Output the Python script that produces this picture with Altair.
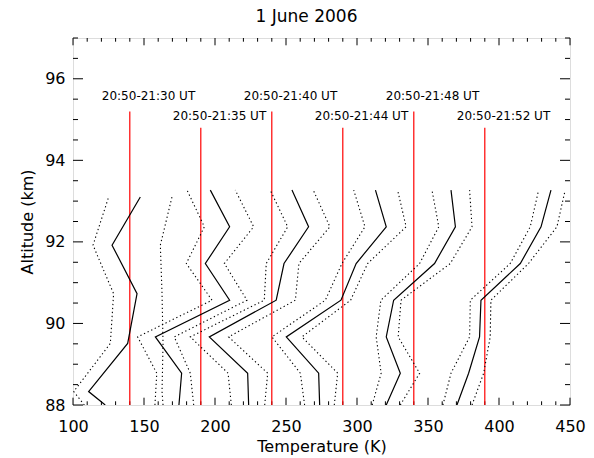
import altair as alt
import pandas as pd

# ---------------- data ----------------
labels = ["20:50-21:30 UT", "20:50-21:35 UT", "20:50-21:40 UT",
          "20:50-21:44 UT", "20:50-21:48 UT", "20:50-21:52 UT"]
marker_temp = [140, 190, 240, 290, 340, 390]
marker_top = [95.2, 94.8, 95.2, 94.8, 95.2, 94.8]
label_alt = [95.58, 95.08, 95.58, 95.08, 95.58, 95.08]

alt_first = [93.10, 91.92, 90.73, 89.51, 88.33, 88.0]
alt_other = [93.27, 92.37, 91.47, 90.57, 89.67, 88.78, 88.0]

temp_1 = [147.4, 127.5, 145.1, 138.5, 111.0, 122.7]
low_1 = [125.1, 114.1, 128.6, 126.3, 100.5, 108.0]
high_1 = [169.7, 161.5, 162.7, 163.4, 162.7, 163.4]

temp_2 = [196.7, 210.3, 193.2, 210.3, 158.0, 176.5, 174.6]
low_2 = [180.3, 192.5, 179.8, 197.9, 145.5, 159.0, 157.7]
high_2 = [214.3, 227.2, 206.6, 222.5, 171.3, 182.6, 185.0]

temp_3 = [254.2, 265.9, 248.6, 243.1, 196.0, 223.0, 223.7]
low_3 = [238.9, 251.2, 236.1, 234.7, 182.6, 209.2, 211.5]
high_3 = [269.2, 280.9, 259.1, 256.6, 209.6, 237.1, 235.0]

temp_4 = [313.0, 320.6, 299.4, 288.7, 250.2, 273.0, 273.7]
low_4 = [297.7, 305.6, 289.4, 277.7, 240.1, 260.1, 263.1]
high_4 = [328.6, 334.6, 307.5, 295.5, 261.2, 286.4, 284.0]

temp_5 = [366.2, 369.3, 354.6, 325.8, 320.6, 330.5, 320.6]
low_5 = [352.8, 357.6, 344.1, 316.8, 313.5, 317.0, 310.7]
high_5 = [379.3, 381.0, 365.7, 331.0, 329.0, 344.1, 330.5]

temp_6 = [436.6, 429.6, 415.0, 387.3, 386.3, 378.6, 370.4]
low_6 = [427.9, 422.0, 407.9, 379.8, 379.3, 366.2, 360.5]
high_6 = [446.6, 440.8, 420.8, 394.3, 393.8, 389.2, 381.0]

x_major = [100, 150, 200, 250, 300, 350, 400, 450]
x_minor = [v for v in range(100, 451, 10) if v % 50 != 0]
y_major = [88, 90, 92, 94, 96]
y_minor = [88 + 0.5 * i for i in range(19) if (0.5 * i) % 2 != 0]

# ---------------- tables ----------------
profiles = [
    (alt_first, temp_1, low_1, high_1),
    (alt_other, temp_2, low_2, high_2),
    (alt_other, temp_3, low_3, high_3),
    (alt_other, temp_4, low_4, high_4),
    (alt_other, temp_5, low_5, high_5),
    (alt_other, temp_6, low_6, high_6),
]
rows = []
for i, (alts, m, lo, hi) in enumerate(profiles):
    for kind, vals in (("mean", m), ("low", lo), ("high", hi)):
        for a, t in zip(alts, vals):
            rows.append({"series": f"{i}-{kind}", "kind": kind, "alt": a, "temp": t})
df = pd.DataFrame(rows)

markers = pd.DataFrame({"temp": marker_temp, "alt": [88.0] * 6, "top": marker_top,
                        "label_alt": label_alt, "label": labels})

W, H = 497, 367
FONT = "DejaVu Sans"

xs = alt.Scale(domain=[100, 450], nice=False, zero=False)
ys = alt.Scale(domain=[88, 97], nice=False, zero=False)
xaxis = alt.Axis(values=x_major, title="Temperature (K)", ticks=False, tickSize=0,
                 domain=False, grid=False, labelPadding=13, labelFontSize=16,
                 labelFlush=False, labelOverlap=False,
                 titleFontSize=16, titleFontWeight="normal", titlePadding=4,
                 labelFont=FONT, titleFont=FONT, labelColor="black", titleColor="black")
yaxis = alt.Axis(values=y_major, title="Altitude (km)", ticks=False, tickSize=0,
                 domain=False, grid=False, labelPadding=8, labelFontSize=16,
                 labelFlush=False, labelOverlap=False,
                 titleFontSize=16, titleFontWeight="normal", titlePadding=9,
                 labelFont=FONT, titleFont=FONT, labelColor="black", titleColor="black")
X = alt.X("temp:Q", scale=xs, axis=xaxis)
Y = alt.Y("alt:Q", scale=ys, axis=yaxis)

mean_lines = alt.Chart(df).transform_filter(alt.datum.kind == "mean").mark_line(
    color="black", strokeWidth=1.2, clip=True
).encode(x=X, y=Y, detail="series:N", order="alt:Q")

err_lines = alt.Chart(df).transform_filter(alt.datum.kind != "mean").mark_line(
    color="black", strokeWidth=1.1, strokeDash=[1.3, 2.7], clip=True
).encode(x=X, y=Y, detail="series:N", order="alt:Q")

red_rules = alt.Chart(markers).mark_rule(color="#ff0000", strokeWidth=1.2).encode(
    x=X, y=Y, y2="top:Q"
)

texts = alt.Chart(markers).mark_text(
    align="left", baseline="middle", dx=-28, fontSize=12, font=FONT, color="black"
).encode(x=X, y=alt.Y("label_alt:Q", scale=ys), text="label:N")

# inward ticks on all four sides
xmaj = pd.DataFrame({"temp": x_major})
xmin = pd.DataFrame({"temp": x_minor})
ymaj = pd.DataFrame({"alt": y_major})
ymin = pd.DataFrame({"alt": y_minor})

def xticks(d, length):
    b = alt.Chart(d).mark_rule(color="black", strokeWidth=1).encode(
        x=X, y=alt.value(H), y2=alt.value(H - length))
    t = alt.Chart(d).mark_rule(color="black", strokeWidth=1).encode(
        x=X, y=alt.value(0), y2=alt.value(length))
    return b + t

def yticks(d, length):
    l = alt.Chart(d).mark_rule(color="black", strokeWidth=1).encode(
        y=Y, x=alt.value(0), x2=alt.value(length))
    r = alt.Chart(d).mark_rule(color="black", strokeWidth=1).encode(
        y=Y, x=alt.value(W), x2=alt.value(W - length))
    return l + r

chart = alt.layer(
    xticks(xmaj, 7.3), xticks(xmin, 3.7), yticks(ymaj, 10), yticks(ymin, 5),
    red_rules, err_lines, mean_lines, texts
).properties(
    width=W, height=H,
    title=alt.TitleParams("1 June 2006", fontSize=17, font=FONT, fontWeight="normal",
                          color="black", offset=12, dx=-15),
    autosize=alt.AutoSizeParams(type="none"),
    padding={"left": 73, "top": 38, "right": 24, "bottom": 53},
).configure_view(stroke="black", strokeWidth=1.2).configure(background="white")

chart.save("out.html", embed_options={"renderer": "svg", "actions": False})
